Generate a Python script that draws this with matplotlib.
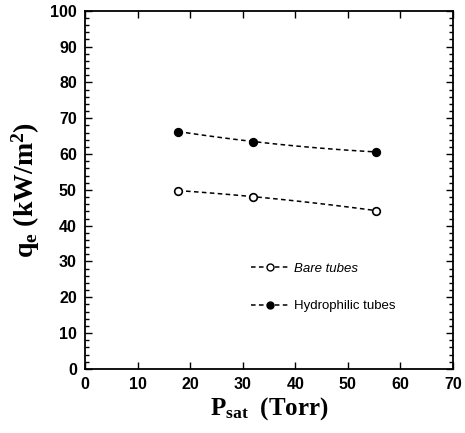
import numpy as np
import matplotlib.pyplot as plt
from matplotlib.ticker import MultipleLocator

plt.rcParams['mathtext.fontset'] = 'custom'
plt.rcParams['mathtext.bf'] = 'Liberation Serif:bold'
plt.rcParams['mathtext.rm'] = 'Liberation Serif:bold'
plt.rcParams['mathtext.it'] = 'Liberation Serif:bold'

# Saturation pressure (Torr) and evaporation heat flux (kW/m2)
p_sat = [17.7, 32.0, 55.4]
q_bare = [49.8, 48.1, 44.2]
q_hydro = [66.3, 63.5, 60.6]

fig = plt.figure(figsize=(4.65, 4.33), dpi=100)
ax = fig.add_axes([0.183, 0.148, 0.791, 0.827])

# dashed trend curves through the measured points
xx = np.linspace(p_sat[0], p_sat[-1], 100)
for q, face in [(q_bare, 'white'), (q_hydro, 'black')]:
    c = np.polyfit(p_sat, q, 2)
    ax.plot(xx, np.polyval(c, xx), color='black', linestyle=(0, (3, 2.2)), linewidth=1.1)
    ax.plot(p_sat, q, 'o', markerfacecolor=face, markeredgecolor='black',
            markeredgewidth=1.2, markersize=5.5)

# legend handles
ax.plot([], [], color='black', linestyle=(0, (3, 2.2)), linewidth=1.1, marker='o',
        markerfacecolor='white', markeredgecolor='black', markersize=5, label='Bare tubes')
ax.plot([], [], color='black', linestyle=(0, (3, 2.2)), linewidth=1.1, marker='o',
        markerfacecolor='black', markeredgecolor='black', markersize=5, label='Hydrophilic tubes')
leg = ax.legend(loc='upper left', bbox_to_anchor=(0.42, 0.33), frameon=False,
                handlelength=2.8, handletextpad=0.4, labelspacing=1.9, numpoints=1,
                prop={'family': 'Liberation Sans', 'size': 9.5})
leg.get_texts()[0].set_style('italic')

ax.set_xlim(0, 70)
ax.set_ylim(0, 100)
ax.xaxis.set_major_locator(MultipleLocator(10))
ax.yaxis.set_major_locator(MultipleLocator(10))
ax.yaxis.set_minor_locator(MultipleLocator(2))
ax.tick_params(which='both', direction='in', top=True, right=True, width=1)
ax.tick_params(which='major', length=5, labelsize=11.5, pad=6)
ax.tick_params(which='minor', length=3)
for lab in ax.get_xticklabels() + ax.get_yticklabels():
    lab.set_family('Liberation Sans')
    lab.set_fontweight('bold')
for s in ax.spines.values():
    s.set_linewidth(1.3)

ax.set_xlabel(r'$\mathbf{P_{sat}}$  (Torr)', family='Liberation Serif', fontweight='bold',
              fontsize=18, labelpad=2)
ax.set_ylabel(r'$\mathbf{q_e}$ (kW/m$^\mathbf{2}$)', family='Liberation Serif', fontweight='bold',
              fontsize=20, labelpad=6)

fig.savefig('out.png', dpi=100)
